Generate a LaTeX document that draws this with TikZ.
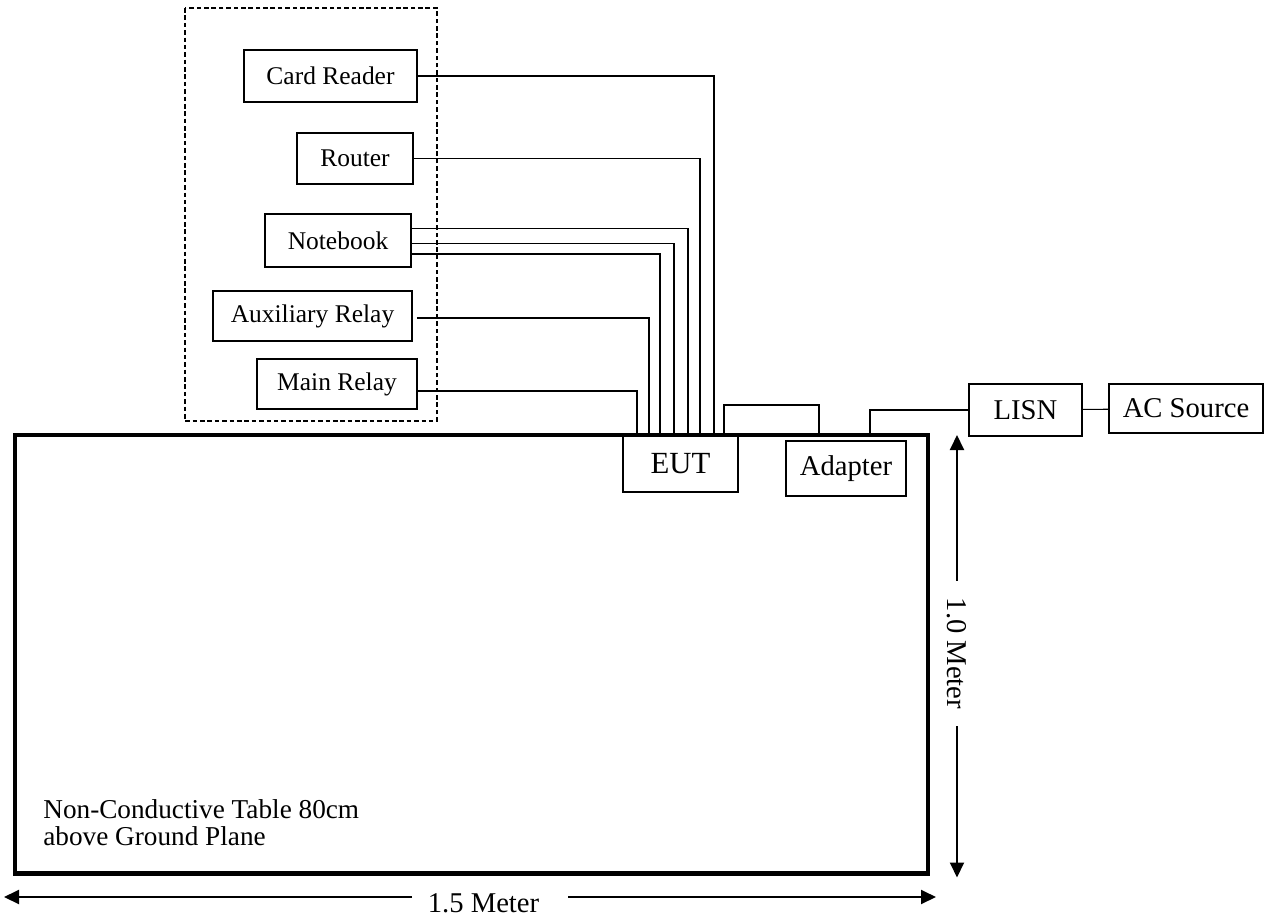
\documentclass[tikz,border=0pt]{standalone}
\usepackage{fontspec}
\setmainfont{Liberation Serif}
\usetikzlibrary{arrows.meta}

\begin{document}
\begin{tikzpicture}[
    box/.style={draw, line width=0.9pt, inner sep=0pt, font=\fontsize{14.5}{17}\selectfont},
    bigbox/.style={draw, line width=0.9pt, inner sep=0pt, font=\fontsize{16.3}{19}\selectfont},
    wire/.style={line width=0.6pt},
    dim/.style={line width=1.1pt, -{Triangle[length=0.3cm,width=0.28cm]}}
  ]
  \useasboundingbox (0,0) rectangle (25.42,-18.44);

  % support units
  \draw[line width=0.6pt, dash pattern=on 2.6pt off 1.6pt] (3.7,-0.16) rectangle (8.74,-8.42);
  \node[box, minimum width=3.46cm, minimum height=1.04cm] (cardreader) at (6.61,-1.52) {Card Reader};
  \node[box, minimum width=2.32cm, minimum height=1.02cm] (router) at (7.1,-3.17) {Router};
  \node[box, minimum width=2.92cm, minimum height=1.06cm] (notebook) at (6.76,-4.81) {Notebook};
  \node[box, minimum width=3.98cm, minimum height=1.0cm] (auxrelay) at (6.25,-6.32) {Auxiliary Relay};
  \node[box, minimum width=3.2cm, minimum height=1.0cm] (mainrelay) at (6.74,-7.68) {Main Relay};

  % table
  \node[draw, line width=2.3pt, inner sep=0pt, minimum width=18.26cm, minimum height=8.77cm] (table) at (9.43,-13.085) {};
  \node[anchor=base west, align=left, inner sep=0pt, font=\fontsize{15.5}{15}\selectfont] (tablenote) at (0.86,-16.9)
    {Non-Conductive Table 80cm\\above Ground Plane};

  \node[draw, line width=0.7pt, inner sep=0pt, minimum width=2.3cm, minimum height=1.14cm, font=\fontsize{17.5}{20}\selectfont] (eut) at (13.61,-9.27) {EUT};
  \node[bigbox, minimum width=2.4cm, minimum height=1.1cm] (adapter) at (16.92,-9.37) {Adapter};
  \node[bigbox, minimum width=2.26cm, minimum height=1.04cm] (lisn) at (20.51,-8.2) {LISN};
  \node[bigbox, minimum width=3.08cm, minimum height=0.98cm] (acsrc) at (23.72,-8.17) {AC Source};

  % cables
  \draw[wire] (cardreader.east) -| ([xshift=0.67cm]eut.north);
  \draw[wire] (router.east) -| ([xshift=0.39cm]eut.north);
  \draw[wire] ([yshift=0.24cm]notebook.east) -| ([xshift=0.15cm]eut.north);
  \draw[wire] ([yshift=-0.06cm]notebook.east) -| ([xshift=-0.13cm]eut.north);
  \draw[wire] ([yshift=-0.27cm]notebook.east) -| ([xshift=-0.41cm]eut.north);
  \draw[wire] ([xshift=0.08cm,yshift=-0.04cm]auxrelay.east) -| ([xshift=-0.63cm]eut.north);
  \draw[wire] ([yshift=-0.14cm]mainrelay.east) -| ([xshift=-0.87cm]eut.north);

  \coordinate (j1) at (16.38,-8.1);
  \draw[wire] ([xshift=0.87cm]eut.north) |- (j1) -- (j1 |- table.north);
  \draw[wire] ([xshift=0.48cm]adapter.north |- table.north) |- (lisn.west);
  \draw[wire] (lisn) -- (acsrc);

  % dimensions
  \node[rotate=-90, inner xsep=0.33cm, inner ysep=0pt, font=\fontsize{16.3}{19}\selectfont] (vlabel) at (19.14,-13.07) {1.0 Meter};
  \coordinate (vtop) at (19.14,-8.7);
  \coordinate (vbot) at (19.14,-17.55);
  \draw[dim] (vlabel) -- (vtop);
  \draw[dim] (vlabel) -- (vbot);

  \node[font=\fontsize{16.3}{19}\selectfont, inner sep=0pt] (hlabel) at (9.67,-18.06) {1.5 Meter};
  \coordinate (hl) at (8.24,-17.94);
  \coordinate (hr) at (11.36,-17.94);
  \coordinate (hleft) at (0.08,-17.94);
  \coordinate (hright) at (18.72,-17.94);
  \draw[dim] (hl) -- (hleft);
  \draw[dim] (hr) -- (hright);
\end{tikzpicture}
\end{document}
